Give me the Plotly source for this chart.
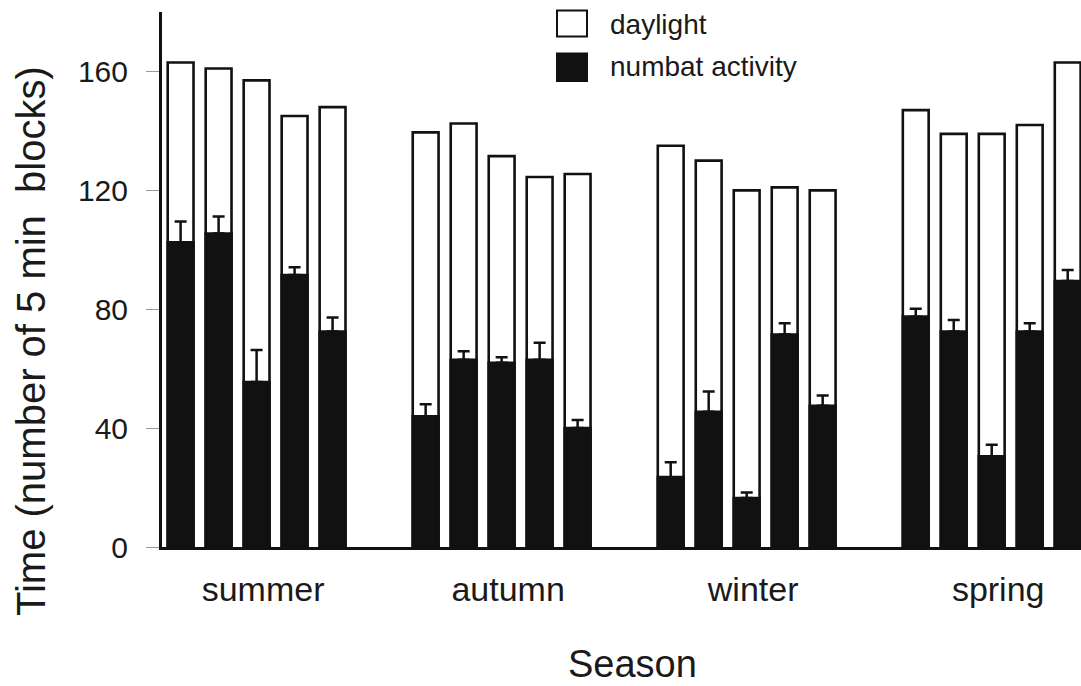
import plotly.graph_objects as go

seasons = ["summer", "autumn", "winter", "spring"]
daylight = {
    "summer": [163, 161, 157, 145, 148],
    "autumn": [139.5, 142.5, 131.5, 124.5, 125.5],
    "winter": [135, 130, 120, 121, 120],
    "spring": [147, 139, 139, 142, 163],
}
activity = {
    "summer": [102.5, 105.5, 55.5, 91.5, 72.5],
    "autumn": [44, 63, 62, 63, 40],
    "winter": [23.5, 45.5, 16.5, 71.5, 47.5],
    "spring": [77.5, 72.5, 30.5, 72.5, 89.5],
}
activity_err = {
    "summer": [7, 5.7, 10.8, 2.6, 4.7],
    "autumn": [4, 2.9, 1.8, 5.7, 2.7],
    "winter": [5, 6.8, 1.8, 3.8, 3.5],
    "spring": [2.7, 3.9, 3.9, 2.8, 3.7],
}
y_ticks = [0, 40, 80, 120, 160]

W, H = 1081, 686
ML, MR, MT, MB = 162, 0, 12, 139
PW, PH = W - ML - MR, H - MT - MB
GROUP_STEP = 6.45


def px(xp):
    return (xp - ML) / PW


def py(yp):
    return (H - MB - yp) / PH


xs, day_vals, act_vals, err_vals = [], [], [], []
for g, s in enumerate(seasons):
    for i in range(len(daylight[s])):
        xs.append(g * GROUP_STEP + i)
        day_vals.append(daylight[s][i])
        act_vals.append(activity[s][i])
        err_vals.append(activity_err[s][i])

tickvals = [g * GROUP_STEP + 2.17 for g in range(len(seasons))]

fig = go.Figure()
fig.add_trace(go.Bar(
    x=xs, y=day_vals, width=0.68, name="daylight",
    marker=dict(color="white", line=dict(color="#111111", width=2.6)),
    showlegend=False,
))
fig.add_trace(go.Bar(
    x=xs, y=act_vals, width=0.68, name="numbat activity",
    marker=dict(color="#111111", line=dict(color="#111111", width=2.6)),
    error_y=dict(type="data", symmetric=False, array=err_vals,
                 arrayminus=[0] * len(err_vals),
                 color="#111111", thickness=2.5, width=6),
    showlegend=False,
))

font_family = "Liberation Sans, Arial, sans-serif"
fig.update_layout(
    width=W, height=H,
    margin=dict(l=ML, r=MR, t=MT, b=MB, pad=0),
    barmode="overlay",
    plot_bgcolor="white", paper_bgcolor="white",
    font=dict(family=font_family, color="#1a1a1a"),
    showlegend=False,
    xaxis=dict(
        range=[-0.49, 23.7], showgrid=False, zeroline=False,
        showline=True, linecolor="#111111", linewidth=2.5,
        tickmode="array", tickvals=tickvals, ticktext=seasons,
        ticks="", tickfont=dict(size=34, color="#1a1a1a"),
        ticklabelstandoff=10,
    ),
    yaxis=dict(
        range=[0, 180], showgrid=False, zeroline=False,
        showline=True, linecolor="#111111", linewidth=3,
        tickmode="array", tickvals=y_ticks,
        ticks="outside", ticklen=13, tickwidth=1, tickcolor="#999999",
        tickfont=dict(size=30, color="#1a1a1a"),
        ticklabelstandoff=12,
    ),
)

# y-axis title
fig.add_annotation(
    x=px(31), y=py(341), xref="paper", yref="paper",
    text="Time (number of 5 min  blocks)", textangle=-90,
    showarrow=False, font=dict(size=40, color="#1a1a1a"),
    xanchor="center", yanchor="middle",
)
# x-axis title
fig.add_annotation(
    x=px(632.5), y=py(664), xref="paper", yref="paper",
    text="Season", showarrow=False, font=dict(size=38, color="#1a1a1a"),
    xanchor="center", yanchor="middle",
)

# legend
legend_items = [("daylight", "white", 10.5, 36.5, 24), ("numbat activity", "#111111", 53.5, 81, 66)]
for label, fill, top, bottom, ty in legend_items:
    fig.add_shape(
        type="rect", xref="paper", yref="paper",
        x0=px(557), x1=px(587), y0=py(bottom), y1=py(top),
        fillcolor=fill, line=dict(color="#111111", width=2),
    )
    fig.add_annotation(
        x=px(608), y=py(ty), xref="paper", yref="paper",
        text=label, showarrow=False, font=dict(size=28, color="#1a1a1a"),
        xanchor="left", yanchor="middle",
    )

fig.write_html(
    "out.html",
    config=dict(displayModeBar=False),
    post_script="document.body.style.margin='0';document.body.style.overflow='hidden';",
)
